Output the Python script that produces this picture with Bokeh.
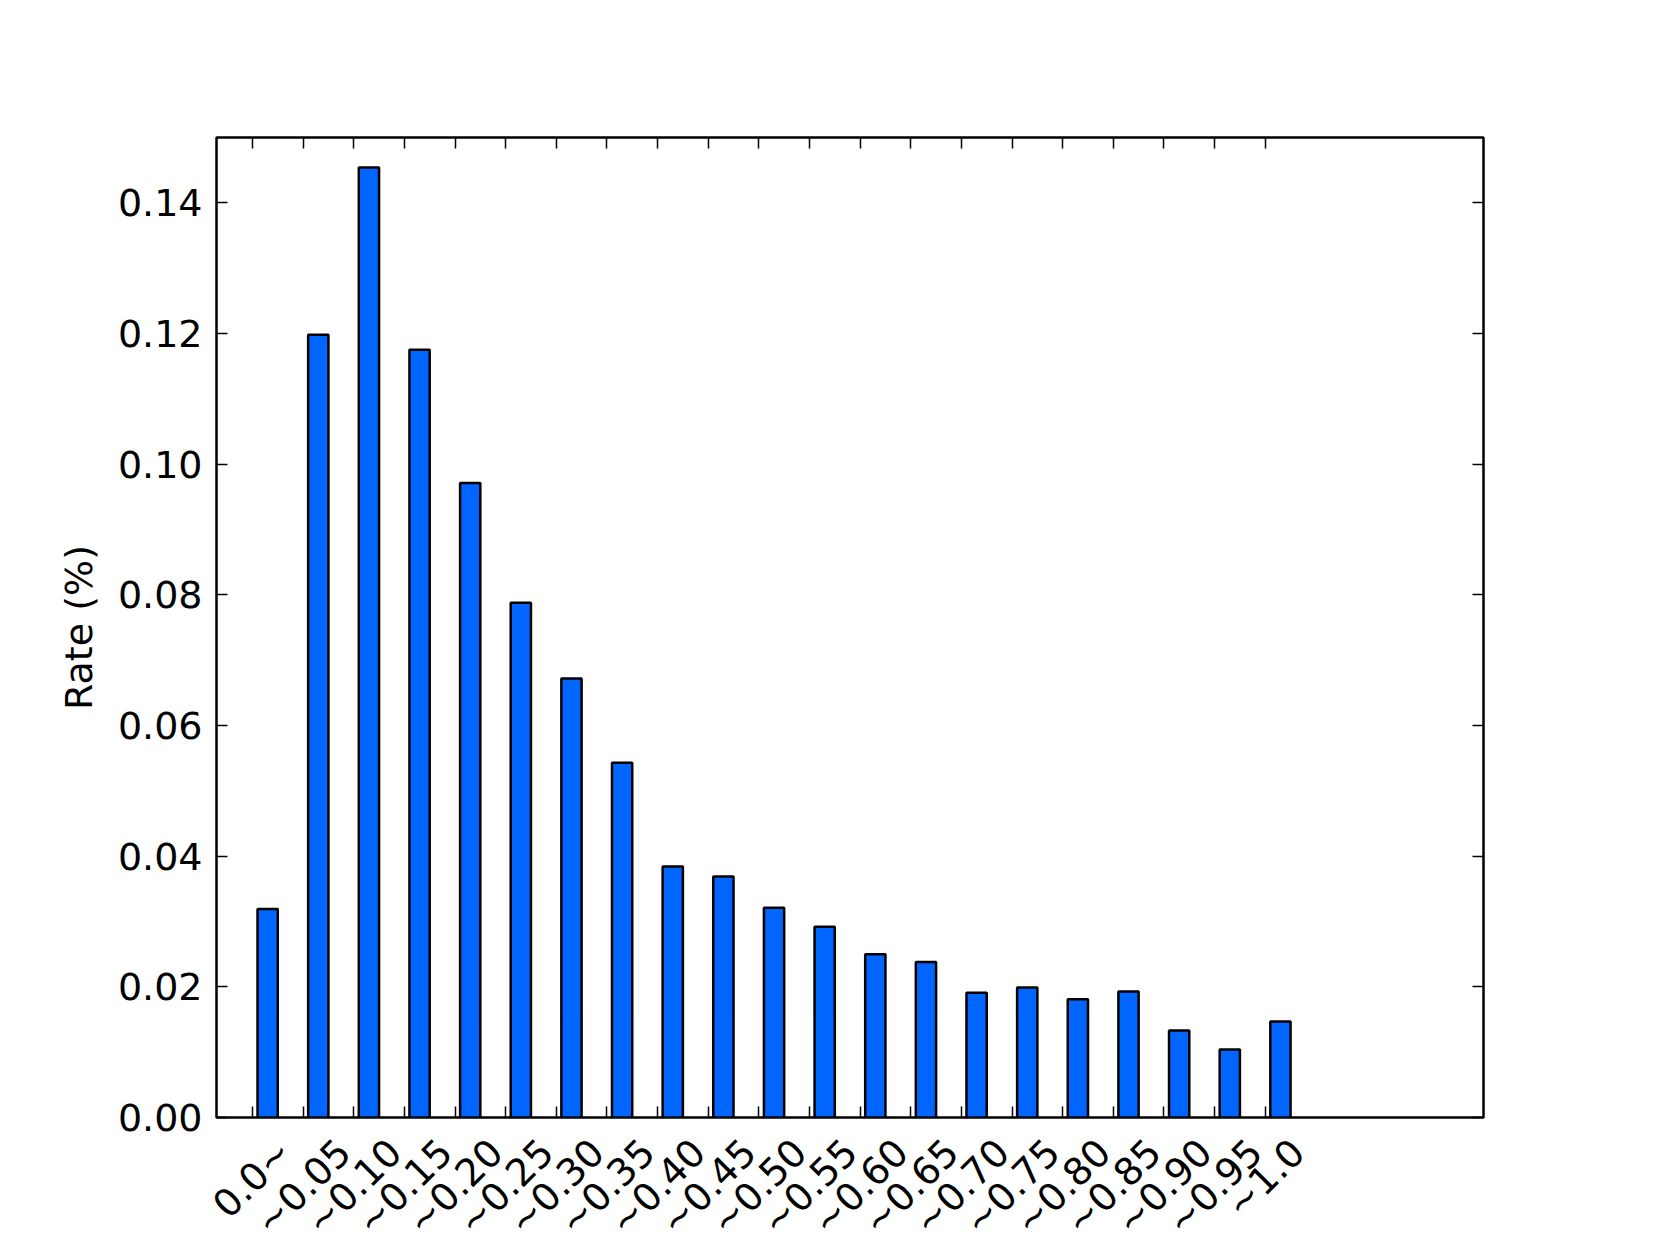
import math
from bokeh.plotting import figure
from bokeh.models import (FixedTicker, LinearAxis, Range1d, ColumnDataSource,
                          NumeralTickFormatter, CustomJSTickFormatter)
from bokeh.core.properties import value
from bokeh.embed import file_html
from bokeh.resources import INLINE

# ---- data ----
categories = ["0.0~", "~0.05", "~0.10", "~0.15", "~0.20", "~0.25", "~0.30",
              "~0.35", "~0.40", "~0.45", "~0.50", "~0.55", "~0.60", "~0.65",
              "~0.70", "~0.75", "~0.80", "~0.85", "~0.90", "~0.95", "~1.0"]
rates = [0.0319, 0.1198, 0.1454, 0.1175, 0.0971, 0.0788, 0.0672, 0.0543,
         0.0384, 0.0369, 0.0321, 0.0292, 0.0250, 0.0238, 0.0191, 0.0199,
         0.0181, 0.0193, 0.0133, 0.0104, 0.0147]
y_ticks = [0.0, 0.02, 0.04, 0.06, 0.08, 0.10, 0.12, 0.14]
y_label = "Rate (%)"

FONT = "DejaVu Sans"
FS = 38  # px
BAR_W = 0.4
BAR_SHIFT = 0.3

idx = list(range(len(categories)))

# approximate DejaVu Sans advance widths (em) to place rotated labels
cw = {"0": 0.636, "1": 0.636, "2": 0.636, "3": 0.636, "4": 0.636, "5": 0.636,
      "6": 0.636, "7": 0.636, "8": 0.636, "9": 0.636, ".": 0.318, "~": 0.838}
top_pad = 15
label_offsets = []
for c in categories:
    w = FS * sum(cw.get(ch, 0.6) for ch in c)
    h = FS * 1.0
    label_offsets.append(top_pad + (w + h) / (2 * math.sqrt(2)))

bar_src = ColumnDataSource(dict(x=[i + BAR_SHIFT for i in idx], top=rates))
lab_src = ColumnDataSource(dict(x=idx, y=[0.0] * len(idx), text=categories,
                                yo=label_offsets))

W, H = 1645, 1236
p = figure(width=W, height=H, output_backend="svg", toolbar_location=None,
           x_range=Range1d(-0.71, 24.31), y_range=Range1d(0, 0.15),
           min_border_left=216, min_border_right=162,
           min_border_top=137, min_border_bottom=119,
           background_fill_color="white", border_fill_color="white")
p.grid.visible = False
p.outline_line_color = "black"
p.outline_line_width = 2.5

p.vbar(x="x", top="top", width=BAR_W, bottom=0, source=bar_src,
       fill_color="#0066ff", line_color="black", line_width=2.5)

p.text(x="x", y="y", text="text", source=lab_src, angle=math.pi / 4,
       y_offset="yo", text_align="center", text_baseline="middle",
       text_font=value(FONT), text_font_size=f"{FS}px", text_color="black",
       level="overlay")

blank = CustomJSTickFormatter(code="return ''")


def style_axis(ax):
    ax.axis_line_color = None
    ax.major_tick_in = 11
    ax.major_tick_out = 0
    ax.minor_tick_line_color = None
    ax.major_tick_line_color = "black"
    ax.major_tick_line_width = 1.5


def hide_labels(ax):
    ax.formatter = blank
    ax.major_label_text_font_size = "0px"
    ax.major_label_standoff = 0


# left axis
yax = p.yaxis[0]
yax.ticker = FixedTicker(ticks=y_ticks)
yax.formatter = NumeralTickFormatter(format="0.00")
yax.major_label_text_font = FONT
yax.major_label_text_font_size = f"{FS}px"
yax.major_label_text_color = "black"
yax.major_label_standoff = 14
yax.axis_label = y_label
yax.axis_label_text_font = FONT
yax.axis_label_text_font_size = f"{FS}px"
yax.axis_label_text_font_style = "normal"
yax.axis_label_text_color = "black"
yax.axis_label_standoff = 14
style_axis(yax)

# bottom axis
xax = p.xaxis[0]
xax.ticker = FixedTicker(ticks=idx)
hide_labels(xax)
style_axis(xax)

# right axis
rax = LinearAxis(ticker=FixedTicker(ticks=y_ticks))
hide_labels(rax)
style_axis(rax)
p.add_layout(rax, "right")

# top axis
tax = LinearAxis(ticker=FixedTicker(ticks=idx))
hide_labels(tax)
style_axis(tax)
p.add_layout(tax, "above")

open("out.html", "w").write(file_html(p, INLINE))
